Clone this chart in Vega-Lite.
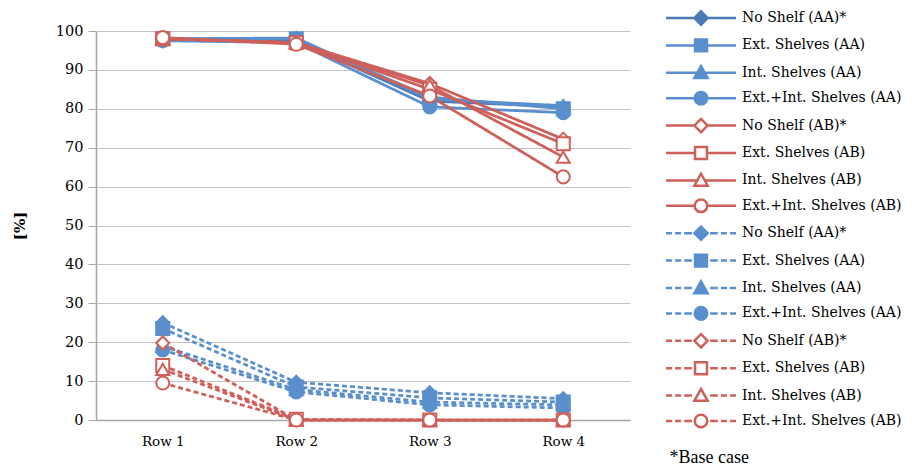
{
  "$schema": "https://vega.github.io/schema/vega-lite/v6.json",
  "width": 534,
  "height": 389,
  "autosize": {"type": "none"},
  "padding": {"left": 96, "top": 31, "right": 286, "bottom": 49},
  "background": "white",
  "config": {
    "view": {"stroke": null},
    "legend": {"labelFont": "DejaVu Serif", "labelFontSize": 14, "labelColor": "black", "labelLimit": 0}
  },
  "data": {
    "values": [
      {"series": "a1 No Shelf (AA)*", "metric": "DAcon", "row": "Row 1", "value": 97.5},
      {"series": "a1 No Shelf (AA)*", "metric": "DAcon", "row": "Row 2", "value": 97.5},
      {"series": "a1 No Shelf (AA)*", "metric": "DAcon", "row": "Row 3", "value": 82},
      {"series": "a1 No Shelf (AA)*", "metric": "DAcon", "row": "Row 4", "value": 80.5},
      {"series": "a2 Ext. Shelves (AA)", "metric": "DAcon", "row": "Row 1", "value": 98},
      {"series": "a2 Ext. Shelves (AA)", "metric": "DAcon", "row": "Row 2", "value": 98},
      {"series": "a2 Ext. Shelves (AA)", "metric": "DAcon", "row": "Row 3", "value": 83},
      {"series": "a2 Ext. Shelves (AA)", "metric": "DAcon", "row": "Row 4", "value": 80},
      {"series": "a3 Int. Shelves (AA)", "metric": "DAcon", "row": "Row 1", "value": 98},
      {"series": "a3 Int. Shelves (AA)", "metric": "DAcon", "row": "Row 2", "value": 98.2},
      {"series": "a3 Int. Shelves (AA)", "metric": "DAcon", "row": "Row 3", "value": 82.5},
      {"series": "a3 Int. Shelves (AA)", "metric": "DAcon", "row": "Row 4", "value": 80.8},
      {"series": "a4 Ext.+Int. Shelves (AA)", "metric": "DAcon", "row": "Row 1", "value": 97.5},
      {"series": "a4 Ext.+Int. Shelves (AA)", "metric": "DAcon", "row": "Row 2", "value": 97},
      {"series": "a4 Ext.+Int. Shelves (AA)", "metric": "DAcon", "row": "Row 3", "value": 80.5},
      {"series": "a4 Ext.+Int. Shelves (AA)", "metric": "DAcon", "row": "Row 4", "value": 79},
      {"series": "a5 No Shelf (AB)*", "metric": "DAcon", "row": "Row 1", "value": 98},
      {"series": "a5 No Shelf (AB)*", "metric": "DAcon", "row": "Row 2", "value": 97},
      {"series": "a5 No Shelf (AB)*", "metric": "DAcon", "row": "Row 3", "value": 86.5},
      {"series": "a5 No Shelf (AB)*", "metric": "DAcon", "row": "Row 4", "value": 72.2},
      {"series": "a6 Ext. Shelves (AB)", "metric": "DAcon", "row": "Row 1", "value": 98},
      {"series": "a6 Ext. Shelves (AB)", "metric": "DAcon", "row": "Row 2", "value": 97},
      {"series": "a6 Ext. Shelves (AB)", "metric": "DAcon", "row": "Row 3", "value": 85},
      {"series": "a6 Ext. Shelves (AB)", "metric": "DAcon", "row": "Row 4", "value": 71},
      {"series": "a7 Int. Shelves (AB)", "metric": "DAcon", "row": "Row 1", "value": 98},
      {"series": "a7 Int. Shelves (AB)", "metric": "DAcon", "row": "Row 2", "value": 97},
      {"series": "a7 Int. Shelves (AB)", "metric": "DAcon", "row": "Row 3", "value": 86},
      {"series": "a7 Int. Shelves (AB)", "metric": "DAcon", "row": "Row 4", "value": 67.6},
      {"series": "a8 Ext.+Int. Shelves (AB)", "metric": "DAcon", "row": "Row 1", "value": 98.3},
      {"series": "a8 Ext.+Int. Shelves (AB)", "metric": "DAcon", "row": "Row 2", "value": 96.6},
      {"series": "a8 Ext.+Int. Shelves (AB)", "metric": "DAcon", "row": "Row 3", "value": 83.3},
      {"series": "a8 Ext.+Int. Shelves (AB)", "metric": "DAcon", "row": "Row 4", "value": 62.5},
      {"series": "b1 No Shelf (AA)*", "metric": "DAmax", "row": "Row 1", "value": 25},
      {"series": "b1 No Shelf (AA)*", "metric": "DAmax", "row": "Row 2", "value": 9.7},
      {"series": "b1 No Shelf (AA)*", "metric": "DAmax", "row": "Row 3", "value": 7},
      {"series": "b1 No Shelf (AA)*", "metric": "DAmax", "row": "Row 4", "value": 5.5},
      {"series": "b2 Ext. Shelves (AA)", "metric": "DAmax", "row": "Row 1", "value": 23.5},
      {"series": "b2 Ext. Shelves (AA)", "metric": "DAmax", "row": "Row 2", "value": 8.5},
      {"series": "b2 Ext. Shelves (AA)", "metric": "DAmax", "row": "Row 3", "value": 5.7},
      {"series": "b2 Ext. Shelves (AA)", "metric": "DAmax", "row": "Row 4", "value": 4.6},
      {"series": "b3 Int. Shelves (AA)", "metric": "DAmax", "row": "Row 1", "value": 19},
      {"series": "b3 Int. Shelves (AA)", "metric": "DAmax", "row": "Row 2", "value": 7.8},
      {"series": "b3 Int. Shelves (AA)", "metric": "DAmax", "row": "Row 3", "value": 4.6},
      {"series": "b3 Int. Shelves (AA)", "metric": "DAmax", "row": "Row 4", "value": 3.9},
      {"series": "b4 Ext.+Int. Shelves (AA)", "metric": "DAmax", "row": "Row 1", "value": 18},
      {"series": "b4 Ext.+Int. Shelves (AA)", "metric": "DAmax", "row": "Row 2", "value": 7.2},
      {"series": "b4 Ext.+Int. Shelves (AA)", "metric": "DAmax", "row": "Row 3", "value": 3.9},
      {"series": "b4 Ext.+Int. Shelves (AA)", "metric": "DAmax", "row": "Row 4", "value": 3.1},
      {"series": "b5 No Shelf (AB)*", "metric": "DAmax", "row": "Row 1", "value": 19.8},
      {"series": "b5 No Shelf (AB)*", "metric": "DAmax", "row": "Row 2", "value": 0},
      {"series": "b5 No Shelf (AB)*", "metric": "DAmax", "row": "Row 3", "value": 0},
      {"series": "b5 No Shelf (AB)*", "metric": "DAmax", "row": "Row 4", "value": 0},
      {"series": "b6 Ext. Shelves (AB)", "metric": "DAmax", "row": "Row 1", "value": 14},
      {"series": "b6 Ext. Shelves (AB)", "metric": "DAmax", "row": "Row 2", "value": 0.2},
      {"series": "b6 Ext. Shelves (AB)", "metric": "DAmax", "row": "Row 3", "value": 0},
      {"series": "b6 Ext. Shelves (AB)", "metric": "DAmax", "row": "Row 4", "value": 0},
      {"series": "b7 Int. Shelves (AB)", "metric": "DAmax", "row": "Row 1", "value": 13},
      {"series": "b7 Int. Shelves (AB)", "metric": "DAmax", "row": "Row 2", "value": 0},
      {"series": "b7 Int. Shelves (AB)", "metric": "DAmax", "row": "Row 3", "value": 0},
      {"series": "b7 Int. Shelves (AB)", "metric": "DAmax", "row": "Row 4", "value": 0},
      {"series": "b8 Ext.+Int. Shelves (AB)", "metric": "DAmax", "row": "Row 1", "value": 9.5},
      {"series": "b8 Ext.+Int. Shelves (AB)", "metric": "DAmax", "row": "Row 2", "value": 0},
      {"series": "b8 Ext.+Int. Shelves (AB)", "metric": "DAmax", "row": "Row 3", "value": 0},
      {"series": "b8 Ext.+Int. Shelves (AB)", "metric": "DAmax", "row": "Row 4", "value": 0}
    ]
  },
  "encoding": {
    "x": {
      "field": "row", "type": "nominal",
      "scale": {"type": "point", "padding": 0.5},
      "axis": {"title": null, "labelFont": "DejaVu Serif", "labelFontSize": 13.5, "labelColor": "black", "labelAngle": 0, "ticks": false, "grid": false, "domainColor": "#A6A6A6", "domainWidth": 1.5, "labelPadding": 14}
    },
    "y": {
      "field": "value", "type": "quantitative",
      "scale": {"domain": [0, 100], "nice": false},
      "axis": {"title": "[%]", "titleFont": "DejaVu Serif", "titleFontSize": 15, "titleFontWeight": "bold", "titleColor": "black", "titlePadding": 28, "values": [0, 10, 20, 30, 40, 50, 60, 70, 80, 90, 100], "labelFont": "DejaVu Serif", "labelFontSize": 14.5, "labelColor": "black", "labelPadding": 5, "tickSize": 8, "tickColor": "#A6A6A6", "domainColor": "#A6A6A6", "domainWidth": 1.5, "gridColor": "#C4C4C4", "gridWidth": 1}
    },
    "color": {
      "field": "series", "type": "nominal",
      "scale": {
        "domain": ["a1 No Shelf (AA)*", "a2 Ext. Shelves (AA)", "a3 Int. Shelves (AA)", "a4 Ext.+Int. Shelves (AA)", "a5 No Shelf (AB)*", "a6 Ext. Shelves (AB)", "a7 Int. Shelves (AB)", "a8 Ext.+Int. Shelves (AB)", "b1 No Shelf (AA)*", "b2 Ext. Shelves (AA)", "b3 Int. Shelves (AA)", "b4 Ext.+Int. Shelves (AA)", "b5 No Shelf (AB)*", "b6 Ext. Shelves (AB)", "b7 Int. Shelves (AB)", "b8 Ext.+Int. Shelves (AB)"],
        "range": ["#4A79B8", "#5A8FCD", "#5A8FCD", "#5A8FCD", "#CF5F59", "#CF5F59", "#CF5F59", "#CF5F59", "#5A8FCD", "#5A8FCD", "#5A8FCD", "#5A8FCD", "#CF5F59", "#CF5F59", "#CF5F59", "#CF5F59"]
      },
      "legend": {
        "orient": "none", "legendX": 573.5, "legendY": -24.5, "direction": "vertical", "padding": 0,
        "labelExpr": "slice(datum.label, 3)", "labelOffset": 29.5, "symbolOffset": 20, "rowPadding": 3.4,
        "symbolSize": 400, "symbolStrokeWidth": 2.5,
        "title": "*Base case", "titleOrient": "bottom", "titleFont": "Liberation Serif", "titleFontSize": 18, "titleFontWeight": "normal", "titleColor": "black", "titlePadding": 16,
        "encode": {
          "symbols": {
            "update": {
              "shape": {"signal": "['M-3.5,0L-0.665,0M0.665,0L3.5,0M0,-0.665L0.665,0L0,0.665L-0.665,0Z','M-3.5,0L-0.595,0M0.595,0L3.5,0M-0.595,-0.595L0.595,-0.595L0.595,0.595L-0.595,0.595Z','M-3.5,0L-0.35,0M0.35,0L3.5,0M0,-0.665L0.665,0.525L-0.665,0.525Z','M-3.5,0L-0.63,0M0.63,0L3.5,0M0.63,0A0.63,0.63,0,1,1,-0.63,0A0.63,0.63,0,1,1,0.63,0Z','M-3.5,0L-2.905,0M-2.59,0L-1.995,0M-1.68,0L-0.91,0M0.91,0L1.68,0M1.995,0L2.59,0M2.905,0L3.5,0M0,-0.665L0.665,0L0,0.665L-0.665,0Z','M-3.5,0L-2.905,0M-2.59,0L-1.995,0M-1.68,0L-0.91,0M0.91,0L1.68,0M1.995,0L2.59,0M2.905,0L3.5,0M-0.595,-0.595L0.595,-0.595L0.595,0.595L-0.595,0.595Z','M-3.5,0L-2.905,0M-2.59,0L-1.995,0M-1.68,0L-0.91,0M0.91,0L1.68,0M1.995,0L2.59,0M2.905,0L3.5,0M0,-0.665L0.665,0.525L-0.665,0.525Z','M-3.5,0L-2.905,0M-2.59,0L-1.995,0M-1.68,0L-0.91,0M0.91,0L1.68,0M1.995,0L2.59,0M2.905,0L3.5,0M0.63,0A0.63,0.63,0,1,1,-0.63,0A0.63,0.63,0,1,1,0.63,0Z'][(slice(datum.value,0,1)=='b'?4:0)+(toNumber(slice(datum.value,1,2))-1)%4]"},
              "size": {"value": 400},
              "strokeWidth": {"value": 2.5},
              "opacity": {"value": 1}
            }
          }
        }
      }
    }
  },
  "layer": [
    {
      "mark": {"type": "line", "strokeWidth": 2.75},
      "encoding": {
        "strokeDash": {"field": "metric", "type": "nominal", "scale": {"domain": ["DAcon", "DAmax"], "range": [[1, 0], [5, 3]]}, "legend": null}
      }
    },
    {
      "mark": {"type": "point", "filled": false, "opacity": 1, "size": 170, "strokeWidth": 2},
      "encoding": {
        "fill": {
          "field": "series", "type": "nominal",
          "scale": {
            "domain": ["a1 No Shelf (AA)*", "a2 Ext. Shelves (AA)", "a3 Int. Shelves (AA)", "a4 Ext.+Int. Shelves (AA)", "a5 No Shelf (AB)*", "a6 Ext. Shelves (AB)", "a7 Int. Shelves (AB)", "a8 Ext.+Int. Shelves (AB)", "b1 No Shelf (AA)*", "b2 Ext. Shelves (AA)", "b3 Int. Shelves (AA)", "b4 Ext.+Int. Shelves (AA)", "b5 No Shelf (AB)*", "b6 Ext. Shelves (AB)", "b7 Int. Shelves (AB)", "b8 Ext.+Int. Shelves (AB)"],
            "range": ["#4A79B8", "#5A8FCD", "#5A8FCD", "#5A8FCD", "white", "white", "white", "white", "#5A8FCD", "#5A8FCD", "#5A8FCD", "#5A8FCD", "white", "white", "white", "white"]
          },
          "legend": {
            "orient": "none", "legendX": 573.5, "legendY": -24.5, "direction": "vertical", "padding": 0,
            "labelExpr": "slice(datum.label, 3)", "labelOffset": 29.5, "symbolOffset": 20, "rowPadding": 3.4,
            "symbolSize": 400, "symbolStrokeWidth": 2.5,
            "title": "*Base case", "titleOrient": "bottom", "titleFont": "Liberation Serif", "titleFontSize": 18, "titleFontWeight": "normal", "titleColor": "black", "titlePadding": 16,
            "encode": {
              "symbols": {
                "update": {
                  "shape": {"signal": "['M-3.5,0L-0.665,0M0.665,0L3.5,0M0,-0.665L0.665,0L0,0.665L-0.665,0Z','M-3.5,0L-0.595,0M0.595,0L3.5,0M-0.595,-0.595L0.595,-0.595L0.595,0.595L-0.595,0.595Z','M-3.5,0L-0.35,0M0.35,0L3.5,0M0,-0.665L0.665,0.525L-0.665,0.525Z','M-3.5,0L-0.63,0M0.63,0L3.5,0M0.63,0A0.63,0.63,0,1,1,-0.63,0A0.63,0.63,0,1,1,0.63,0Z','M-3.5,0L-2.905,0M-2.59,0L-1.995,0M-1.68,0L-0.91,0M0.91,0L1.68,0M1.995,0L2.59,0M2.905,0L3.5,0M0,-0.665L0.665,0L0,0.665L-0.665,0Z','M-3.5,0L-2.905,0M-2.59,0L-1.995,0M-1.68,0L-0.91,0M0.91,0L1.68,0M1.995,0L2.59,0M2.905,0L3.5,0M-0.595,-0.595L0.595,-0.595L0.595,0.595L-0.595,0.595Z','M-3.5,0L-2.905,0M-2.59,0L-1.995,0M-1.68,0L-0.91,0M0.91,0L1.68,0M1.995,0L2.59,0M2.905,0L3.5,0M0,-0.665L0.665,0.525L-0.665,0.525Z','M-3.5,0L-2.905,0M-2.59,0L-1.995,0M-1.68,0L-0.91,0M0.91,0L1.68,0M1.995,0L2.59,0M2.905,0L3.5,0M0.63,0A0.63,0.63,0,1,1,-0.63,0A0.63,0.63,0,1,1,0.63,0Z'][(slice(datum.value,0,1)=='b'?4:0)+(toNumber(slice(datum.value,1,2))-1)%4]"},
                  "size": {"value": 400},
                  "strokeWidth": {"value": 2.5},
                  "opacity": {"value": 1}
                }
              }
            }
          }
        },
        "shape": {
          "field": "series", "type": "nominal",
          "scale": {
            "domain": ["b1 No Shelf (AA)*", "b2 Ext. Shelves (AA)", "b3 Int. Shelves (AA)", "b4 Ext.+Int. Shelves (AA)", "b5 No Shelf (AB)*", "b6 Ext. Shelves (AB)", "b7 Int. Shelves (AB)", "b8 Ext.+Int. Shelves (AB)", "a1 No Shelf (AA)*", "a2 Ext. Shelves (AA)", "a3 Int. Shelves (AA)", "a4 Ext.+Int. Shelves (AA)", "a5 No Shelf (AB)*", "a6 Ext. Shelves (AB)", "a7 Int. Shelves (AB)", "a8 Ext.+Int. Shelves (AB)"],
            "range": ["diamond", "square", "triangle-up", "circle", "diamond", "square", "triangle-up", "circle", "diamond", "square", "triangle-up", "circle", "diamond", "square", "triangle-up", "circle"]
          },
          "legend": null
        }
      }
    },
    {
      "data": {"values": [{"label": "DAcon"}]},
      "mark": {"type": "text", "font": "Liberation Serif", "fontSize": 18, "fontWeight": "bold", "dx": 19},
      "encoding": {
        "x": {"datum": "Row 2"},
        "y": {"datum": 74},
        "text": {"field": "label"},
        "color": {"value": "black"}
      }
    },
    {
      "data": {"values": [{"label": "DAmax"}]},
      "mark": {"type": "text", "font": "Liberation Serif", "fontSize": 18, "fontWeight": "bold", "dx": 21},
      "encoding": {
        "x": {"datum": "Row 2"},
        "y": {"datum": 18.8},
        "text": {"field": "label"},
        "color": {"value": "black"}
      }
    }
  ]
}
